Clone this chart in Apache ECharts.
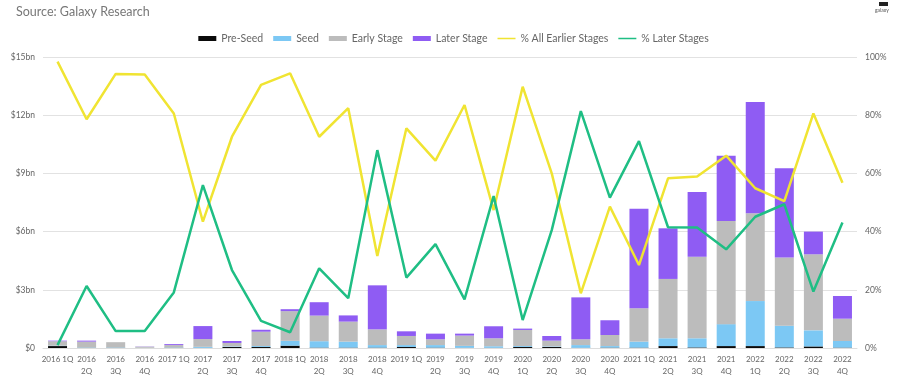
<!DOCTYPE html>
<html>
<head>
    <meta charset="utf-8">
    <title>Venture funding by stage</title>
    <script src="https://cdn.jsdelivr.net/npm/echarts@6.0.0/dist/echarts.min.js"></script>
    <style>
        html, body { margin: 0; padding: 0; background: #fff; }
    </style>
</head>
<body>
    <div id="main" style="width: 907px; height: 377px;"></div>

    <script>
        // quarters (tick labels as printed)
        var quarters = [
            '2016 1Q', '2016\n2Q', '2016\n3Q', '2016\n4Q',
            '2017 1Q', '2017\n2Q', '2017\n3Q', '2017\n4Q',
            '2018 1Q', '2018\n2Q', '2018\n3Q', '2018\n4Q',
            '2019 1Q', '2019\n2Q', '2019\n3Q', '2019\n4Q',
            '2020\n1Q', '2020\n2Q', '2020\n3Q', '2020\n4Q',
            '2021 1Q', '2021\n2Q', '2021\n3Q', '2021\n4Q',
            '2022\n1Q', '2022\n2Q', '2022\n3Q', '2022\n4Q'
        ];

        // capital invested, $bn
        var preSeed = [0.10, 0.01, 0.01, 0.00, 0.01, 0.01, 0.05, 0.05, 0.12, 0.02, 0.02, 0.02, 0.05, 0.02,
                       0.01, 0.01, 0.05, 0.05, 0.01, 0.02, 0.02, 0.10, 0.03, 0.10, 0.10, 0.03, 0.08, 0.02];
        var seed = [0.02, 0.02, 0.02, 0.01, 0.02, 0.05, 0.03, 0.05, 0.25, 0.33, 0.31, 0.13, 0.10, 0.13,
                    0.10, 0.08, 0.05, 0.03, 0.14, 0.08, 0.31, 0.40, 0.47, 1.13, 2.32, 1.12, 0.83, 0.34];
        var earlyStage = [0.23, 0.30, 0.27, 0.06, 0.12, 0.40, 0.18, 0.74, 1.53, 1.32, 1.03, 0.81, 0.47, 0.30,
                          0.53, 0.41, 0.83, 0.30, 0.30, 0.57, 1.72, 3.06, 4.21, 5.32, 4.52, 3.51, 3.92, 1.15];
        var laterStage = [0.03, 0.05, 0.00, 0.01, 0.05, 0.67, 0.10, 0.10, 0.10, 0.69, 0.32, 2.27, 0.24, 0.29,
                          0.10, 0.62, 0.07, 0.24, 2.16, 0.76, 5.13, 2.61, 3.33, 3.36, 5.74, 4.60, 1.17, 1.17];

        // share of capital, %
        var pctEarlier = [98.4, 78.6, 94.2, 94.0, 80.6, 43.4, 72.6, 90.4, 94.4, 72.6, 82.4, 31.6, 75.5, 64.4,
                          83.5, 47.4, 89.8, 60.0, 18.8, 48.6, 28.5, 58.3, 58.9, 66.1, 54.9, 50.5, 80.6, 56.8];
        var pctLater = [1.0, 21.3, 5.8, 5.8, 19.1, 56.0, 26.8, 9.3, 5.4, 27.4, 17.1, 68.0, 24.2, 35.7,
                        16.7, 52.2, 9.6, 40.5, 81.4, 51.7, 71.1, 41.5, 41.4, 33.9, 45.1, 49.4, 19.4, 43.1];

        var chartDom = document.getElementById('main');
        var myChart = echarts.init(chartDom);
        var font = 'Lato, "Open Sans", sans-serif';
        var txt = '#666';
        // thin horizontal stroke for the line legend icons
        var lineIcon = 'path://M0,0L20,0L20,0.01L0,0.01Z M0,1.6L20,1.6L20,3.4L0,3.4Z M0,4.99L20,4.99L20,5L0,5Z';

        function barSeries(name, data, color) {
            return {
                name: name,
                type: 'bar',
                stack: 'total',
                barWidth: 19,
                itemStyle: { color: color },
                data: data
            };
        }

        function lineSeries(name, data, color) {
            return {
                name: name,
                type: 'line',
                yAxisIndex: 1,
                symbol: 'none',
                z: 5,
                lineStyle: { color: color, width: 2.5 },
                itemStyle: { color: color },
                data: data
            };
        }

        var option = {
            animation: false,
            textStyle: { fontFamily: font },
            title: {
                text: 'Source: Galaxy Research',
                left: 11,
                top: 0,
                textStyle: { fontFamily: font, fontSize: 12.5, fontWeight: 'normal', color: '#777' }
            },
            graphic: [
                { type: 'rect', left: 879, top: 2, shape: { width: 9, height: 4 }, style: { fill: '#222' } },
                { type: 'text', left: 875, top: 8, style: { text: 'galaxy', fontSize: 5, fill: '#555', fontFamily: font } }
            ],
            legend: {
                top: 28,
                left: 'center',
                itemWidth: 18,
                itemHeight: 5,
                itemGap: 10,
                textStyle: { fontFamily: font, fontSize: 10.5, color: txt },
                data: [
                    { name: 'Pre-Seed', icon: 'rect' },
                    { name: 'Seed', icon: 'rect' },
                    { name: 'Early Stage', icon: 'rect' },
                    { name: 'Later Stage', icon: 'rect' },
                    { name: '% All Earlier Stages', icon: lineIcon },
                    { name: '% Later Stages', icon: lineIcon }
                ]
            },
            grid: { left: 43, right: 50, top: 57, bottom: 29 },
            xAxis: {
                type: 'category',
                data: quarters,
                axisLine: { lineStyle: { color: '#ddd' } },
                axisTick: { show: false },
                axisLabel: {
                    interval: 0,
                    color: txt,
                    fontSize: 8,
                    lineHeight: 12,
                    margin: 5
                }
            },
            yAxis: [
                {
                    type: 'value',
                    min: 0,
                    max: 15,
                    interval: 3,
                    axisLabel: {
                        color: txt,
                        fontSize: 8.5,
                        margin: 8,
                        formatter: function (v) { return v === 0 ? '$0' : '$' + v + 'bn'; }
                    },
                    splitLine: { lineStyle: { color: '#e2e2e2' } },
                    axisLine: { show: false },
                    axisTick: { show: false }
                },
                {
                    type: 'value',
                    min: 0,
                    max: 100,
                    interval: 20,
                    axisLabel: {
                        color: txt,
                        fontSize: 8.5,
                        margin: 8,
                        formatter: '{value}%'
                    },
                    splitLine: { show: false },
                    axisLine: { show: false },
                    axisTick: { show: false }
                }
            ],
            series: [
                barSeries('Pre-Seed', preSeed, '#0a0a0a'),
                barSeries('Seed', seed, '#7cc8f4'),
                barSeries('Early Stage', earlyStage, '#bcbcbc'),
                barSeries('Later Stage', laterStage, '#8f5cf3'),
                lineSeries('% All Earlier Stages', pctEarlier, '#f0e432'),
                lineSeries('% Later Stages', pctLater, '#1fbe84')
            ]
        };

        myChart.setOption(option);
    </script>
</body>
</html>
